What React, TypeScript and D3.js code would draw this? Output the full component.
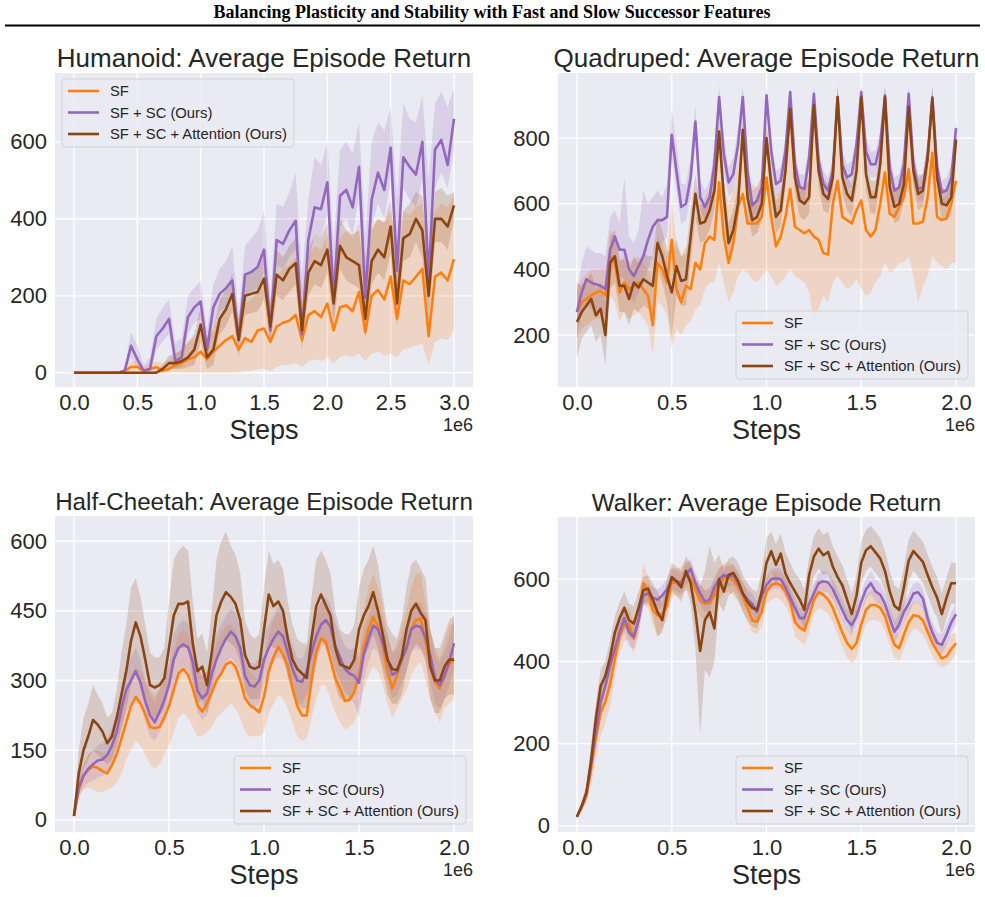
import React, { useRef, useEffect } from 'react';
import * as d3 from 'd3';

const LABELS = ['SF', 'SF + SC (Ours)', 'SF + SC + Attention (Ours)'];
const COLORS = ['#ff7f0e', '#9467bd', '#8b4513'];
const FONT = '"Liberation Sans", Arial, sans-serif';
const INK = '#262626';

// evaluation steps (in units of 1e6)
const humanoidSteps = d3.range(61).map(i => i * 0.05);
const dmcSteps = d3.range(81).map(i => i * 0.025);

// ---- Humanoid ----
const humanoidSF = [0,0,0,0,0,0,0,0,5,15, 15,5,10,15,5,10,20,25,35,40, 55,35,55,70,85,95,60,90,80,110, 115,80,120,130,135,150,85,150,160,145, 180,110,170,175,160,210,105,200,215,190, 250,140,240,230,250,270,95,250,260,240, 295];
const humanoidSFLo = [0,0,0,0,0,0,0,0,0,0, 0,0,0,0,0,0,0,0,0,0, 0,0,0,0,0,0,0,5,5,10, 10,5,15,20,20,25,15,30,35,30, 40,25,40,45,40,50,30,50,55,45, 50,40,60,65,70,75,20,80,90,85, 110];
const humanoidSFHi = [0,0,0,0,0,0,0,0,10,30, 30,15,25,30,25,35,50,60,80,90, 110,90,120,140,160,180,140,180,190,210, 230,180,250,270,280,300,220,300,330,320, 360,280,350,370,350,390,300,380,400,390, 420,340,420,410,430,440,320,420,440,430, 460];
const humanoidSC = [0,0,0,0,0,0,0,0,5,70, 35,5,10,95,115,140,30,40,145,170, 185,60,170,205,220,240,85,255,262,275, 320,110,345,335,370,395,100,345,430,425, 495,190,460,475,430,535,195,450,520,475, 585,265,560,535,515,600,240,580,605,540, 660];
const humanoidSCLo = [0,0,0,0,0,0,0,0,0,40, 10,0,0,60,80,100,10,15,100,130, 140,30,120,160,170,190,60,200,210,220, 260,80,280,270,300,320,70,280,360,350, 410,140,380,400,360,460,150,380,440,400, 500,210,480,450,430,500,180,480,520,480, 580];
const humanoidSCHi = [0,0,0,0,0,0,0,0,10,105, 70,20,40,140,170,190,80,90,200,220, 240,110,230,270,290,330,150,330,350,370, 420,200,440,430,470,520,250,450,560,540, 600,330,580,600,570,650,350,600,650,630, 690,450,700,660,650,720,500,700,730,690, 740];
const humanoidAtt = [0,0,0,0,0,0,0,0,0,0, 0,0,0,0,10,25,25,30,40,60, 125,40,60,140,165,205,85,200,205,210, 245,120,255,240,270,285,110,260,290,280, 320,180,330,300,290,280,140,290,320,300, 380,180,350,360,400,370,200,400,400,380, 435];
const humanoidAttLo = [0,0,0,0,0,0,0,0,0,0, 0,0,0,0,0,10,10,10,15,20, 80,10,20,100,120,160,40,150,155,160, 190,70,200,190,210,230,60,200,230,220, 260,120,270,240,230,220,90,230,260,240, 310,120,290,300,340,300,130,340,340,320, 400];
const humanoidAttHi = [0,0,0,0,0,0,0,0,0,0, 0,0,0,5,20,45,50,60,80,100, 170,90,110,190,215,260,140,250,260,270, 300,180,320,300,330,350,170,320,360,350, 390,250,400,370,360,370,220,370,400,390, 450,260,420,440,470,460,280,470,480,460, 470];

// ---- Quadruped ----
const quadSF = [270,300,310,320,330,335,320,440,420,330, 360,340,350,360,340,320,230,420,400,360, 490,340,300,350,340,420,400,480,500,490, 665,500,420,480,590,630,540,540,540,560, 680,560,470,500,560,645,530,520,510,520, 500,490,450,445,600,670,560,550,540,580, 610,520,500,520,600,695,570,560,590,620, 705,540,540,545,620,755,560,550,555,600, 670];
const quadSFLo = [190,220,230,240,250,250,230,320,300,240, 270,250,260,270,250,230,140,300,290,260, 160,220,200,230,240,280,290,340,360,360, 420,360,300,330,380,400,390,370,360,380, 400,380,350,360,380,400,380,370,360,330, 240,280,320,300,360,380,360,340,350,370, 340,320,330,360,380,420,390,400,420,420, 440,380,300,350,380,440,420,410,400,420, 420];
const quadSFHi = [340,370,390,400,400,400,400,520,500,420, 440,420,430,440,420,400,360,500,480,440, 620,470,440,470,480,560,560,620,640,640, 820,660,600,640,720,820,680,660,650,680, 830,700,620,640,720,880,680,640,640,680, 880,680,620,620,720,900,680,640,640,700, 900,680,640,640,720,920,680,640,660,720, 900,680,640,640,740,920,680,620,620,660, 800];
const quadSC = [270,330,370,360,355,350,340,460,500,460, 460,400,380,410,440,490,530,550,550,560, 810,700,590,600,680,850,620,590,620,720, 925,750,665,690,780,925,700,595,610,650, 930,760,660,670,760,940,720,650,645,740, 935,730,660,640,700,925,720,680,690,780, 940,760,720,720,780,930,710,640,650,720, 935,720,645,650,740,925,710,635,640,680, 830];
const quadSCLo = [200,260,290,280,270,270,260,380,420,380, 370,320,300,330,360,400,440,470,480,500, 740,640,540,550,620,790,580,550,580,670, 880,700,620,640,730,880,660,560,570,610, 890,720,620,630,720,900,680,610,610,700, 900,690,620,600,660,890,680,640,650,740, 900,720,680,680,740,890,670,600,610,680, 900,680,610,610,700,890,670,600,600,640, 800];
const quadSCHi = [330,420,470,460,450,450,440,560,580,540, 680,500,480,520,640,600,620,640,620,660, 890,780,660,660,740,900,670,640,670,770, 960,800,710,740,830,960,740,640,650,690, 960,800,700,710,800,960,760,690,690,780, 960,770,700,680,740,960,760,720,730,820, 960,800,760,760,820,960,750,680,690,760, 960,760,690,690,780,960,750,670,680,720, 860];
const quadAtt = [240,270,290,310,260,280,200,420,440,350, 350,310,360,345,370,360,350,480,440,380, 330,410,365,370,500,630,540,545,580,640, 820,620,480,520,600,825,620,550,560,600, 800,660,560,580,700,890,680,610,600,620, 900,700,630,615,680,925,680,630,610,700, 925,690,620,620,720,925,650,590,600,660, 895,700,630,640,740,920,680,600,595,620, 795];
const quadAttLo = [130,190,210,230,180,200,110,340,360,270, 270,230,280,270,290,280,260,400,360,300, 190,320,290,290,420,560,480,490,520,580, 760,560,420,460,550,780,570,500,510,550, 750,610,510,530,650,850,630,560,550,570, 860,650,580,570,630,890,630,580,560,650, 890,640,570,570,670,890,600,540,550,610, 850,650,580,590,690,880,630,550,550,570, 750];
const quadAttHi = [360,350,370,390,340,360,300,500,520,430, 430,390,440,420,450,440,440,560,520,460, 440,490,440,450,580,690,600,600,630,690, 870,670,540,580,650,870,670,600,610,650, 850,710,610,630,750,930,730,660,650,670, 940,750,680,660,730,960,730,680,660,750, 960,740,670,670,770,960,700,640,650,710, 940,750,680,690,790,960,730,650,640,670, 840];

// ---- Half-Cheetah ----
const cheetahSF = [10,65,95,108,115,112,105,100,118,142, 175,210,245,265,250,228,200,197,200,220, 245,280,315,325,312,283,247,233,250,275, 300,315,335,340,330,300,262,248,240,232, 265,320,350,372,355,330,283,245,225,225, 300,360,390,383,345,305,283,256,258,275, 312,370,410,437,415,375,320,283,310,345, 370,410,430,433,385,330,297,283,310,335, 345];
const cheetahSFLo = [5,50,65,70,65,60,60,65,70,80, 100,130,150,170,160,140,120,110,120,140, 160,190,220,230,220,200,180,180,190,200, 220,230,240,250,240,220,190,180,180,180, 190,230,250,270,260,240,210,180,170,175, 220,260,290,290,260,230,210,195,200,210, 240,280,310,330,320,290,250,220,240,260, 280,310,330,340,300,260,230,210,240,250, 260];
const cheetahSFHi = [15,85,120,140,150,150,145,140,160,190, 230,270,310,330,320,300,280,270,280,300, 330,360,400,410,400,370,330,310,320,350, 380,400,420,420,410,380,340,320,310,300, 340,400,430,450,430,400,360,320,300,300, 380,440,470,460,430,380,360,330,330,350, 390,450,500,530,500,460,400,360,380,420, 450,500,530,530,470,410,370,350,380,420, 420];
const cheetahSC = [10,70,95,110,120,128,130,140,160,190, 240,280,300,320,295,255,225,210,232,258, 290,345,370,378,372,340,278,262,272,315, 345,370,390,405,395,370,310,290,287,300, 345,370,390,405,395,360,325,300,297,320, 360,395,420,430,415,375,350,325,315,310, 295,355,390,418,410,380,345,312,318,345, 370,410,418,415,392,355,305,290,310,340, 380];
const cheetahSCLo = [5,50,70,80,85,90,95,100,120,150, 190,230,250,270,250,210,180,170,190,210, 240,290,320,330,320,290,230,215,225,260, 290,320,340,350,340,320,260,240,240,250, 290,320,340,350,345,310,275,250,250,270, 300,340,370,380,365,325,300,275,265,250, 220,300,340,370,360,330,295,262,268,295, 320,360,370,365,340,300,250,240,260,290, 320];
const cheetahSCHi = [15,90,120,140,150,160,165,175,200,230, 290,330,350,370,345,300,270,255,280,305, 340,400,420,430,425,390,325,310,320,365, 400,420,440,455,445,420,360,340,335,350, 400,420,440,460,450,410,375,350,345,370, 410,450,470,480,465,425,400,375,365,370, 350,410,440,470,460,430,395,362,368,395, 420,460,470,465,445,410,355,340,360,390, 440];
const cheetahAtt = [8,100,150,180,215,205,190,165,180,220, 270,320,385,425,395,345,290,285,290,305, 370,440,465,465,470,380,320,330,290,360, 440,470,490,480,465,430,355,330,325,330, 410,485,460,470,450,390,345,325,315,305, 390,460,485,462,440,370,335,330,326,345, 410,440,460,490,450,400,345,325,322,350, 410,450,465,445,430,330,300,300,330,345, 345];
const cheetahAttLo = [5,70,110,130,150,140,130,120,130,160, 200,240,290,320,300,260,220,220,225,240, 290,350,370,370,370,300,250,260,230,280, 340,370,390,380,370,340,280,260,260,260, 320,380,370,370,360,310,270,250,240,240, 300,360,390,370,350,290,260,260,255,270, 320,350,370,400,370,320,270,250,250,270, 320,360,380,370,350,260,230,230,260,270, 270];
const cheetahAttHi = [12,150,220,250,290,270,250,220,230,280, 360,420,500,520,480,420,360,350,350,370, 470,560,580,590,580,470,390,400,360,450, 560,600,620,590,570,530,430,400,390,400, 500,580,550,560,540,470,420,390,380,380, 480,560,580,560,530,450,410,400,400,420, 500,540,560,590,550,480,420,400,390,430, 500,550,560,540,520,410,370,370,400,430, 440];

// ---- Walker ----
const walkerSF = [22,45,75,140,215,275,302,345,405,460, 488,490,456,500,590,568,525,512,515,535, 593,590,595,610,600,575,548,540,542,560, 588,602,605,598,582,562,530,500,496,520, 570,585,590,585,570,545,496,482,475,510, 550,568,562,550,530,500,470,445,430,445, 490,525,537,537,530,510,472,440,432,465, 495,512,510,500,472,445,425,407,412,430, 444];
const walkerSFLo = [18,35,55,100,160,220,250,290,360,420, 450,450,420,460,540,530,490,460,480,500, 560,560,560,575,565,540,510,500,505,520, 550,565,570,560,545,525,495,470,465,485, 540,550,555,550,535,510,460,450,440,470, 515,530,525,515,495,465,435,410,395,410, 455,490,500,500,495,475,440,410,400,430, 460,480,475,465,440,415,395,385,390,400, 420];
const walkerSFHi = [26,55,95,180,270,330,360,400,450,500, 525,530,495,540,640,605,560,550,555,570, 630,625,630,645,635,610,585,575,578,595, 625,640,640,635,618,598,565,535,530,555, 600,615,620,615,600,578,530,515,508,545, 585,603,598,585,565,535,505,480,465,480, 525,560,572,572,565,545,505,475,465,500, 530,545,545,535,505,478,458,440,445,465, 470];
const walkerSC = [22,48,80,150,230,300,340,390,430,470, 505,470,460,500,560,565,555,550,560,575, 600,595,590,610,625,590,565,545,550,580, 600,610,605,610,590,565,550,540,520,560, 585,600,602,600,580,555,530,505,505,540, 565,590,595,592,575,550,525,500,488,510, 545,575,590,570,562,540,505,472,490,520, 540,565,568,553,505,470,445,440,465,495, 515];
const walkerSCLo = [18,40,65,120,190,260,300,350,400,440, 470,435,430,470,535,540,530,525,535,550, 575,570,565,585,600,565,540,520,525,555, 575,585,580,585,565,540,525,515,495,535, 560,575,577,575,555,530,505,480,480,515, 540,565,570,567,550,525,500,475,463,485, 520,550,565,545,537,515,480,447,465,495, 515,540,543,528,480,445,420,415,440,470, 490];
const walkerSCHi = [26,56,95,180,270,340,380,430,460,500, 540,505,490,530,585,590,580,575,585,600, 625,620,615,635,650,615,590,570,575,605, 625,635,630,635,615,590,575,565,545,585, 610,625,627,625,605,580,555,530,530,565, 590,615,620,617,600,575,550,525,513,535, 570,600,620,600,590,565,530,497,515,545, 565,590,593,578,530,495,470,465,490,520, 540];
const walkerAtt = [22,48,80,160,262,340,365,410,470,505, 530,500,492,530,573,577,550,520,500,560, 605,595,580,620,590,520,425,500,520,480, 600,570,610,615,595,565,545,530,525,569, 640,668,635,662,614,590,570,550,525,610, 655,674,658,666,630,605,585,550,515,560, 640,670,680,665,650,620,570,535,525,580, 645,668,655,642,610,580,555,515,555,590, 590];
const walkerAttLo = [18,38,60,120,220,300,330,370,430,465, 490,460,450,490,540,545,510,460,470,520, 570,560,545,580,540,430,220,380,360,400, 540,520,560,570,550,520,500,485,480,520, 590,615,585,610,565,545,525,505,480,560, 605,625,610,615,580,555,535,500,465,510, 590,620,630,615,600,570,520,485,475,530, 595,620,605,592,560,530,505,465,505,540, 540];
const walkerAttHi = [26,58,100,200,300,380,400,450,510,545, 570,540,535,570,605,610,590,570,540,600, 640,630,620,655,640,600,580,620,680,640, 660,620,650,655,640,610,590,575,570,620, 700,715,685,710,665,640,615,600,575,655, 705,724,708,716,680,655,635,600,565,610, 690,720,730,715,700,670,620,585,575,630, 695,718,705,692,660,630,605,565,605,640, 640];

// ---- ticks ----
const humanoidXTicks = [0, 0.5, 1, 1.5, 2, 2.5, 3];
const dmcXTicks = [0, 0.5, 1, 1.5, 2];
const humanoidYTicks = [0, 200, 400, 600];
const quadYTicks = [200, 400, 600, 800];
const cheetahYTicks = [0, 150, 300, 450, 600];
const walkerYTicks = [0, 200, 400, 600];

const PANELS = [
  {
    title: 'Humanoid: Average Episode Return', titleSize: 26,
    steps: humanoidSteps,
    runs: [[humanoidSF, humanoidSFLo, humanoidSFHi], [humanoidSC, humanoidSCLo, humanoidSCHi], [humanoidAtt, humanoidAttLo, humanoidAttHi]],
    xDomain: [-0.15, 3.15], yDomain: [-37, 779],
    xTicks: humanoidXTicks, yTicks: humanoidYTicks,
    left: 55, top: 73, width: 418, height: 314, legend: 'upper left',
  },
  {
    title: 'Quadruped: Average Episode Return', titleSize: 26,
    steps: dmcSteps,
    runs: [[quadSF, quadSFLo, quadSFHi], [quadSC, quadSCLo, quadSCHi], [quadAtt, quadAttLo, quadAttHi]],
    xDomain: [-0.1, 2.1], yDomain: [42, 998],
    xTicks: dmcXTicks, yTicks: quadYTicks,
    left: 558, top: 73, width: 417, height: 314, legend: 'lower right',
  },
  {
    title: 'Half-Cheetah: Average Episode Return', titleSize: 24.2,
    steps: dmcSteps,
    runs: [[cheetahSF, cheetahSFLo, cheetahSFHi], [cheetahSC, cheetahSCLo, cheetahSCHi], [cheetahAtt, cheetahAttLo, cheetahAttHi]],
    xDomain: [-0.1, 2.1], yDomain: [-26, 654],
    xTicks: dmcXTicks, yTicks: cheetahYTicks,
    left: 55, top: 516, width: 418, height: 316, legend: 'lower right',
  },
  {
    title: 'Walker: Average Episode Return', titleSize: 24.2,
    steps: dmcSteps,
    runs: [[walkerSF, walkerSFLo, walkerSFHi], [walkerSC, walkerSCLo, walkerSCHi], [walkerAtt, walkerAttLo, walkerAttHi]],
    xDomain: [-0.1, 2.1], yDomain: [-15, 751],
    xTicks: dmcXTicks, yTicks: walkerYTicks,
    left: 558, top: 517, width: 417, height: 315, legend: 'lower right',
  },
];

function drawPanel(svg: any, p: any, idx: number) {
  const x = d3.scaleLinear().domain(p.xDomain).range([p.left, p.left + p.width]);
  const y = d3.scaleLinear().domain(p.yDomain).range([p.top + p.height, p.top]);
  const g = svg.append('g');

  g.append('rect')
    .attr('x', p.left).attr('y', p.top)
    .attr('width', p.width).attr('height', p.height)
    .attr('fill', '#eaeaf2');

  // grid
  g.append('g').selectAll('line').data(p.xTicks).join('line')
    .attr('x1', (d: number) => x(d)).attr('x2', (d: number) => x(d))
    .attr('y1', p.top).attr('y2', p.top + p.height)
    .attr('stroke', '#fff').attr('stroke-width', 1.3);
  g.append('g').selectAll('line').data(p.yTicks).join('line')
    .attr('x1', p.left).attr('x2', p.left + p.width)
    .attr('y1', (d: number) => y(d)).attr('y2', (d: number) => y(d))
    .attr('stroke', '#fff').attr('stroke-width', 1.3);

  const clipId = `plot-clip-${idx}`;
  svg.append('defs').append('clipPath').attr('id', clipId)
    .append('rect')
    .attr('x', p.left).attr('y', p.top)
    .attr('width', p.width).attr('height', p.height);

  const plot = g.append('g').attr('clip-path', `url(#${clipId})`);

  // confidence bands below all lines
  p.runs.forEach((run: number[][], k: number) => {
    const [mean, lo, hi] = run;
    const area = d3.area<number>()
      .x((_, i) => x(p.steps[i]))
      .y0((_, i) => y(lo[i]))
      .y1((_, i) => y(hi[i]));
    plot.append('path').datum(mean)
      .attr('d', area)
      .attr('fill', COLORS[k])
      .attr('fill-opacity', 0.2);
  });

  p.runs.forEach((run: number[][], k: number) => {
    const line = d3.line<number>()
      .x((_, i) => x(p.steps[i]))
      .y(d => y(d));
    plot.append('path').datum(run[0])
      .attr('d', line)
      .attr('fill', 'none')
      .attr('stroke', COLORS[k])
      .attr('stroke-width', 2.6)
      .attr('stroke-linejoin', 'round');
  });

  // axes
  const xAxis = g.append('g')
    .attr('transform', `translate(0,${p.top + p.height})`)
    .call(d3.axisBottom(x).tickValues(p.xTicks).tickFormat(d3.format('.1f')).tickSize(0).tickPadding(7));
  xAxis.select('.domain').remove();
  xAxis.selectAll('text')
    .style('font-family', FONT).style('font-size', '22px').style('fill', INK);

  const yAxis = g.append('g')
    .attr('transform', `translate(${p.left},0)`)
    .call(d3.axisLeft(y).tickValues(p.yTicks).tickFormat(d3.format('d')).tickSize(0).tickPadding(8));
  yAxis.select('.domain').remove();
  yAxis.selectAll('text')
    .style('font-family', FONT).style('font-size', '22px').style('fill', INK);

  g.append('text')
    .attr('x', p.left + p.width / 2).attr('y', p.top + p.height + 52)
    .attr('text-anchor', 'middle')
    .style('font-family', FONT).style('font-size', '27px').style('fill', INK)
    .text('Steps');

  g.append('text')
    .attr('x', p.left + p.width).attr('y', p.top + p.height + 44)
    .attr('text-anchor', 'end')
    .style('font-family', FONT).style('font-size', '18px').style('fill', INK)
    .text('1e6');

  g.append('text')
    .attr('x', p.left + p.width / 2).attr('y', p.top - 6.5)
    .attr('text-anchor', 'middle')
    .style('font-family', FONT).style('font-size', `${p.titleSize}px`).style('fill', INK)
    .text(p.title);

  // legend
  const lw = 232;
  const lh = 68;
  const lx = p.legend === 'upper left' ? p.left + 7 : p.left + p.width - 7 - lw;
  const ly = p.legend === 'upper left' ? p.top + 6 : p.top + p.height - 8 - lh;
  const legend = g.append('g').attr('transform', `translate(${lx},${ly})`);
  legend.append('rect')
    .attr('width', lw).attr('height', lh).attr('rx', 3)
    .attr('fill', '#eaeaf2').attr('fill-opacity', 0.8)
    .attr('stroke', '#cccccc').attr('stroke-opacity', 0.8);
  const rows = legend.selectAll('g.row').data(LABELS).join('g')
    .attr('class', 'row')
    .attr('transform', (_: string, i: number) => `translate(0,${12 + i * 21.5})`);
  rows.append('line')
    .attr('x1', 6).attr('x2', 37)
    .attr('stroke', (_: string, i: number) => COLORS[i])
    .attr('stroke-width', 2.6);
  rows.append('text')
    .attr('x', 48).attr('dy', '0.36em')
    .style('font-family', FONT).style('font-size', '14.8px').style('fill', INK)
    .text((d: string) => d);
}

export default function App() {
  const svgRef = useRef<SVGSVGElement>(null);

  useEffect(() => {
    const svg = d3.select(svgRef.current);
    svg.selectAll('*').remove();

    svg.append('rect').attr('width', 985).attr('height', 897).attr('fill', '#fff');

    svg.append('text')
      .attr('x', 492).attr('y', 18)
      .attr('text-anchor', 'middle')
      .style('font-family', '"Liberation Serif", "Times New Roman", serif')
      .style('font-weight', 'bold').style('font-size', '18px')
      .text('Balancing Plasticity and Stability with Fast and Slow Successor Features');

    svg.append('line')
      .attr('x1', 5).attr('x2', 980).attr('y1', 25.5).attr('y2', 25.5)
      .attr('stroke', '#000').attr('stroke-width', 2);

    PANELS.forEach((p, i) => drawPanel(svg, p, i));
  }, []);

  return (
    <svg
      ref={svgRef}
      width={985}
      height={897}
      style={{ position: 'absolute', left: 0, top: 0, display: 'block' }}
    />
  );
}
